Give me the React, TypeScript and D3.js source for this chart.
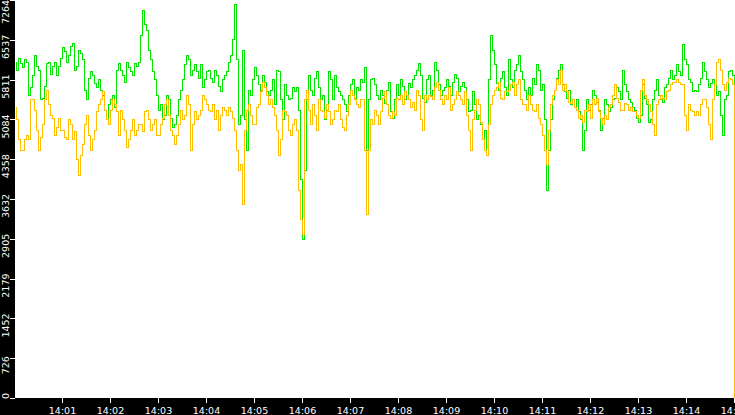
import { useMemo } from 'react'
import * as d3 from 'd3'

const startTime = new Date(2024, 0, 1, 14, 0, 0)
const endTime = new Date(2024, 0, 1, 14, 15, 0)
const stepSeconds = 2.5

// readings on every 5 s mark, 14:00:00 .. 14:15:00
const greenOnMark = [
  6132, 6205, 6023, 6132, 5658, 6242, 5986, 5475, 6096, 5913, 6132, 6059, 6388, 6132, 6424, 5986,
  6351, 6169, 5439, 5950, 5731, 5804, 5512, 5074, 5439, 5293, 6096, 5877, 6132, 5950, 6096, 6132,
  7081, 6716, 6169, 5804, 5256, 5074, 5530, 5110, 4983, 5439, 5804, 6260, 5895, 6078, 5840, 5658,
  5950, 5840, 5986, 5694, 5804, 5950, 6260, 7173, 4983, 6351, 4526, 5530, 6023, 5713, 5895, 5585,
  5621, 5348, 5950, 5074, 5530, 5475, 5585, 5256, 2884, 5439, 5621, 5840, 5658, 5530, 5256, 5804,
  5895, 5585, 5439, 5220, 5713, 5475, 5621, 5767, 4526, 5804, 5713, 5439, 5512, 5621, 5220, 5439,
  5530, 5694, 5530, 5658, 5877, 6096, 5475, 5804, 5530, 6132, 5713, 5621, 5804, 5530, 5913, 5585,
  5767, 5439, 5256, 5348, 5165, 4709, 4435, 6625, 6078, 5621, 5950, 5530, 5804, 5986, 6242, 5804,
  5439, 5530, 5713, 5986, 5713, 3796, 5074, 5621, 5986, 5713, 5475, 5348, 5293, 5220, 4526, 5439,
  5348, 5530, 5256, 5110, 5348, 5293, 5475, 5585, 5986, 5585, 5402, 5256, 5037, 5713, 5348, 5074,
  5621, 5530, 5402, 5713, 5986, 5895, 5950, 6443, 6078, 5767, 5621, 5713, 6132, 5804, 5731, 5713,
  5585, 4800, 5530, 5986, 2774,
]

// readings half way between the marks
const greenBetween = [
  5986, 6096, 6169, 5530, 5877, 6059, 5439, 5694, 6132, 6059, 5895, 6205, 6315, 6242, 6461, 6059,
  6279, 5621, 5840, 5877, 5658, 5621, 5256, 5348, 5530, 5986, 5986, 5767, 6023, 5895, 6059, 6625,
  6808, 6351, 5950, 5530, 5348, 5165, 5439, 4928, 5165, 5621, 6078, 6169, 5986, 5950, 6078, 5804,
  5986, 5767, 5877, 5585, 5895, 6132, 6534, 6169, 5165, 5074, 5621, 5804, 5895, 5621, 5767, 5530,
  5804, 5986, 5439, 5713, 5439, 5658, 5658, 3979, 4161, 5895, 5530, 5950, 5439, 5074, 5950, 5439,
  5658, 5530, 5348, 5530, 5804, 5658, 5804, 6023, 5439, 5840, 5530, 5621, 5384, 5767, 5110, 5713,
  5804, 5439, 5749, 5804, 5986, 5895, 5402, 5895, 5621, 5986, 5530, 5658, 5694, 5767, 5840, 5694,
  5658, 5220, 5585, 5074, 4983, 4891, 5804, 6351, 5731, 5840, 5658, 6169, 5658, 6078, 5950, 5621,
  5658, 5840, 6078, 5621, 5074, 4526, 5439, 5840, 6078, 5585, 5621, 5439, 5439, 5074, 4891, 5256,
  5621, 5402, 4891, 5439, 5220, 5439, 5658, 5439, 5713, 5439, 5293, 5110, 5165, 5475, 5037, 5439,
  5804, 5439, 5658, 5840, 5804, 6078, 5895, 6169, 5804, 5585, 5585, 5840, 5950, 5658, 5804, 5530,
  5165, 5439, 5950, 5895,
]

const orangeOnMark = [
  5293, 4709, 4526, 4800, 5439, 5256, 4526, 4983, 5621, 5165, 4800, 5110, 4891, 4709, 4983, 4855,
  4070, 4618, 5165, 4526, 4891, 5348, 5585, 5074, 5256, 5348, 4800, 5074, 4563, 4891, 4800, 4983,
  4855, 5256, 4891, 5074, 4800, 5110, 5439, 4891, 4618, 4983, 5074, 5530, 4526, 5220, 5165, 5530,
  5348, 5220, 5074, 4891, 5293, 5165, 5220, 4891, 4161, 3523, 5256, 5165, 4983, 5348, 5767, 5530,
  5439, 5165, 4435, 5256, 5165, 4800, 5074, 3796, 2975, 5621, 4983, 5165, 5439, 5220, 5348, 4983,
  5256, 5348, 4928, 5165, 5621, 5439, 5293, 5439, 3340, 5074, 5256, 4983, 5475, 5348, 5110, 5165,
  5439, 5348, 5530, 5293, 5256, 5530, 4891, 5439, 5494, 5658, 5621, 5348, 5439, 5256, 5439, 5530,
  5348, 5165, 4526, 5256, 5348, 4709, 4435, 5348, 5621, 5767, 5439, 5585, 5713, 5530, 5804, 5348,
  5256, 5348, 5220, 5110, 4800, 4253, 5348, 5621, 5713, 5621, 5585, 5384, 5293, 5110, 5037, 5220,
  5110, 5348, 5220, 4983, 5074, 5348, 5713, 5402, 5256, 5348, 5293, 5220, 5110, 5804, 5439, 5220,
  4800, 5439, 5475, 5585, 5713, 5767, 5767, 5713, 4891, 5256, 5165, 5165, 5439, 5293, 4709, 5713,
  6169, 5713, 5767, 5804, 0,
]

const orangeBetween = [
  5074, 4526, 4709, 4709, 5439, 4891, 4746, 5439, 5348, 5110, 4928, 4891, 4746, 5074, 4709, 4344,
  4435, 4983, 4800, 4709, 5220, 5439, 5256, 4983, 5439, 5220, 5256, 4891, 4709, 5074, 4891, 4983,
  5220, 5074, 4983, 4800, 4983, 5348, 5165, 4800, 4800, 5256, 5165, 5348, 4983, 5074, 5256, 5439,
  5256, 5348, 5256, 5165, 5256, 5293, 5110, 4526, 4253, 4891, 5348, 4983, 5293, 5585, 5658, 5348,
  5293, 4891, 4709, 5220, 4891, 4983, 4891, 3249, 5439, 5256, 5348, 4891, 5256, 5110, 5220, 5074,
  5220, 5074, 4891, 5348, 5530, 5348, 5439, 4526, 4526, 4983, 5165, 5220, 5585, 5165, 5220, 5475,
  5530, 5585, 5439, 5402, 5621, 5074, 5512, 5530, 5439, 5767, 5439, 5530, 5658, 5348, 5585, 5439,
  5585, 4891, 5074, 5439, 5037, 4526, 4983, 5530, 5658, 5475, 5585, 5621, 5767, 5713, 5439, 5348,
  5530, 5256, 5348, 4983, 4526, 4891, 5530, 5804, 5986, 5713, 5402, 5439, 5256, 5165, 5256, 5348,
  5439, 5475, 5110, 5165, 5293, 5530, 5475, 5256, 5366, 5256, 5220, 5165, 5621, 5530, 5348, 4983,
  5348, 5530, 5439, 5621, 5767, 5804, 5713, 5165, 5348, 5220, 5220, 5348, 5439, 4983, 5439, 6132,
  5986, 5621, 5840, 5713,
]

const yTickValues = [0, 726, 1452, 2179, 2905, 3632, 4358, 5084, 5811, 6537, 7264]
const xTickMinutes = [1, 2, 3, 4, 5, 6, 7, 8, 9, 10, 11, 12, 13, 14, 15]

const WIDTH = 735
const HEIGHT = 415
const margin = { top: 0, right: 0, bottom: 17, left: 15 }

interface Sample {
  time: Date
  value: number
}

// put the on-mark and in-between readings back into time order
function toSamples(onMark: number[], between: number[]): Sample[] {
  const values = onMark.flatMap((v, i) => (i < between.length ? [v, between[i]] : [v]))
  return values.map((value, i) => ({
    time: new Date(startTime.getTime() + i * stepSeconds * 1000),
    value,
  }))
}

export default function App() {
  const plotBottom = HEIGHT - margin.bottom

  const xScale = useMemo(
    () => d3.scaleTime().domain([startTime, endTime]).range([margin.left, WIDTH - margin.right]),
    []
  )
  const yScale = useMemo(
    () => d3.scaleLinear().domain([0, 7264]).range([plotBottom, margin.top]),
    [plotBottom]
  )

  // vertical jumps between readings, like the original trace
  const line = d3
    .line<Sample>()
    .x(d => Math.round(xScale(d.time)) + 0.5)
    .y(d => yScale(d.value))
    .curve(d3.curveStep)

  const greenPath = line(toSamples(greenOnMark, greenBetween)) || ''
  const orangePath = line(toSamples(orangeOnMark, orangeBetween)) || ''
  const timeFormat = d3.timeFormat('%H:%M')
  const font = '"DejaVu Sans", Verdana, sans-serif'

  return (
    <div style={{ position: 'fixed', left: 0, top: 0 }}>
      <svg width={WIDTH} height={HEIGHT} style={{ display: 'block', background: '#fff' }}>
        <rect x={0} y={0} width={WIDTH} height={HEIGHT} fill="#fff" />

        <path d={greenPath} fill="none" stroke="#00e600" strokeWidth={1} shapeRendering="crispEdges" />
        <path d={orangePath} fill="none" stroke="#ffbf00" strokeWidth={1} shapeRendering="crispEdges" />

        {/* left axis strip */}
        <rect x={0} y={0} width={margin.left} height={HEIGHT} fill="#000" />
        {/* bottom axis strip */}
        <rect x={0} y={plotBottom} width={WIDTH} height={margin.bottom} fill="#000" />

        {yTickValues.map(v => {
          const y = Math.round(yScale(v)) + 0.5
          const labelY = Math.max(12, Math.min(396, yScale(v) + 7))
          return (
            <g key={v}>
              <line x1={10} x2={margin.left} y1={y} y2={y} stroke="#fff" strokeWidth={1} />
              <text
                transform={`translate(9,${labelY}) rotate(-90)`}
                textAnchor="middle"
                fill="#fff"
                fontSize={9.5}
                fontFamily={font}
              >
                {v}
              </text>
            </g>
          )
        })}

        {xTickMinutes.map(m => {
          const t = new Date(startTime.getTime() + m * 60000)
          const x = Math.round(xScale(t)) - 0.5
          return (
            <g key={m}>
              <line x1={x} x2={x} y1={plotBottom} y2={plotBottom + 5} stroke="#fff" strokeWidth={1} />
              <text x={x} y={414} textAnchor="middle" fill="#fff" fontSize={9.5} fontFamily={font}>
                {timeFormat(t)}
              </text>
            </g>
          )
        })}
      </svg>
    </div>
  )
}
